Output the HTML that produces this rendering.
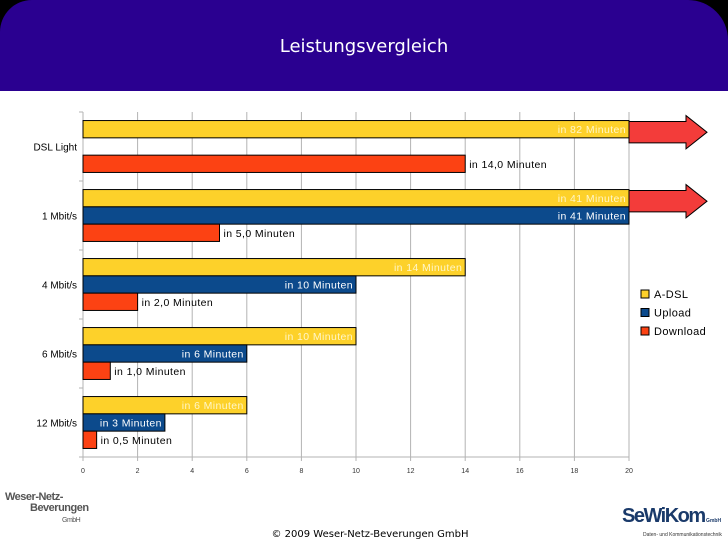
<!DOCTYPE html>
<html><head><meta charset="utf-8"><style>
html,body{margin:0;width:728px;height:546px;background:#fff;overflow:hidden;font-family:"Liberation Sans",sans-serif}
#corner{position:absolute;left:0;top:0;width:728px;height:45px;background:#000}
#hdr{position:absolute;left:0;top:0;width:728px;height:91px;background:#2a0090;border-radius:32px 40px 0 0}
</style></head><body>
<div id="corner"></div>
<div style="position:absolute;left:0;top:0;width:728px;height:546px">
<div style="position:absolute;left:0;top:40px;width:728px;height:506px;background:#fff"></div>
<div id="hdr"></div>
<div style="position:absolute;left:0;width:728px;top:36px;text-align:center;color:#fff;font-size:18px;font-family:'DejaVu Sans',sans-serif">Leistungsvergleich</div>
<svg id="chart" width="728" height="546" style="position:absolute;left:0;top:0"></svg>
<div style="position:absolute;left:0;width:740px;top:529px;text-align:center;font-size:10px;color:#000;font-family:'DejaVu Sans',sans-serif">© 2009 Weser-Netz-Beverungen GmbH</div>
<div style="position:absolute;left:5px;top:492px;font-size:11px;font-weight:bold;color:#555;line-height:11px;letter-spacing:-0.5px;white-space:nowrap">Weser-Netz-<br><span style="padding-left:25px">Beverungen</span><br><span style="padding-left:57px;font-size:7px;font-weight:normal">GmbH</span></div>
<div style="position:absolute;left:622px;top:505px;font-size:20px;font-weight:bold;color:#1a3a6a;letter-spacing:-1.5px;white-space:nowrap">SeWiKom<span style="font-size:5px;letter-spacing:0"> GmbH</span></div>
<div style="position:absolute;left:643px;top:532px;font-size:5px;color:#333;white-space:nowrap">Daten- und Kommunikationstechnik</div>
</div>
<script>
const categories=["DSL Light","1 Mbit/s","4 Mbit/s","6 Mbit/s","12 Mbit/s"];
const adsl=[82,41,14,10,6];
const upload=[null,41,10,6,3];
const download=[14,5,2,1,0.5];
const adslLabels=["in  82 Minuten","in  41 Minuten","in  14 Minuten","in  10 Minuten","in  6 Minuten"];
const uploadLabels=["","in 41 Minuten","in 10 Minuten","in 6 Minuten","in 3 Minuten"];
const downloadLabels=["in  14,0 Minuten","in  5,0 Minuten","in  2,0 Minuten","in  1,0 Minuten","in  0,5 Minuten"];
const xTicks=[0,2,4,6,8,10,12,14,16,18,20];
const seriesNames=["A-DSL","Upload","Download"];
const colors=["#fdd12a","#0c4a8c","#fc4213"];
const svg=document.getElementById('chart');const NS="http://www.w3.org/2000/svg";
const X0=83,X1=629,Y0=112,Y1=457,XMAX=20;
const x=v=>X0+Math.min(v,XMAX)/XMAX*(X1-X0);
const band=(Y1-Y0)/categories.length;const bh=17.3;
function mk(t,a,p){const e=document.createElementNS(NS,t);for(const k in a)e.setAttribute(k,a[k]);(p||svg).appendChild(e);return e;}
xTicks.forEach(t=>{const l=mk('line',{x1:x(t),x2:x(t),y1:Y0,y2:Y1+4,stroke:'#b3b3b3','stroke-width':1});


const tx=mk('text',{x:x(t),y:Y1+16,'font-size':7,'text-anchor':'middle',fill:'#333'});tx.textContent=t;

});
for(let i=0;i<=categories.length;i++){const l=mk('line',{x1:X0-4,x2:X0,y1:Y0+i*band,y2:Y0+i*band,stroke:'#b3b3b3'});

}
mk('line',{x1:X0,x2:X1,y1:Y1,y2:Y1,stroke:'#b3b3b3'});
const series=[adsl,upload,download];const labs=[adslLabels,uploadLabels,downloadLabels];
categories.forEach((c,i)=>{
 const top=Y0+i*band+(band-3*bh)/2;
 const cl=mk('text',{x:77,y:Y0+i*band+band/2+4,'font-size':10,'text-anchor':'end',fill:'#000'});cl.textContent=c;
 
 
 series.forEach((s,j)=>{
  const v=s[i];if(v==null)return;
  const y=top+j*bh;
  const r=mk('rect',{x:X0,y:y,width:x(v)-X0,height:bh,fill:colors[j],stroke:'#000','stroke-width':1});
  
  
  let t;
  if(j<2){t=mk('text',{x:x(v)-3,y:y+bh/2+4,'font-size':10.5,'letter-spacing':0.4,'text-anchor':'end',fill:j==0?'#fff6c8':'#fff'});}
  else{t=mk('text',{x:x(v)+4,y:y+bh/2+4,'font-size':10.5,'letter-spacing':0.4,fill:'#000'});}
  t.textContent=labs[j][i];
  
  
  if(j==0&&v>XMAX){
   const a=mk('polygon',{points:`${X1},${y+1} ${686},${y+1} ${686},${y-5} ${707},${y+bh/2+3} ${686},${y+bh+11} ${686},${y+bh+5} ${X1},${y+bh+5}`,fill:'#f33c3a',stroke:'#000','stroke-width':1});
   
   
  }
 });
});
seriesNames.forEach((n,j)=>{const y=290+j*18.5;
 const r=mk('rect',{x:641,y:y,width:8,height:8,fill:colors[j],stroke:'#000','stroke-width':1});
 
 
 const t=mk('text',{x:654,y:y+8,'font-size':11,'letter-spacing':0.4,fill:'#000'});t.textContent=n;
 
 });
</script>
</body></html>
